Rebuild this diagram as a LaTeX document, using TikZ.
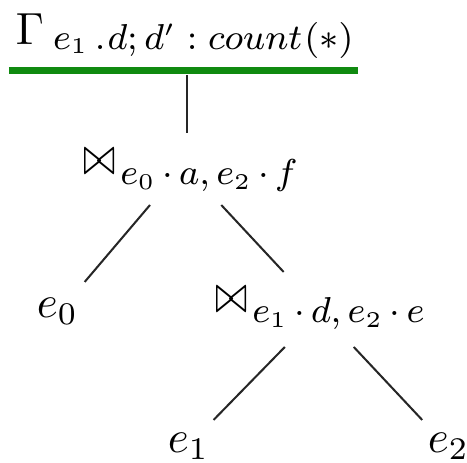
\documentclass[tikz,border=0pt]{standalone}
\usepackage{graphicx}
\usetikzlibrary{calc}
\definecolor{bargreen}{RGB}{16,138,16}
\DeclareMathSizes{8}{8}{5}{5}
\newcommand{\subbox}[1]{\raisebox{-2.2pt}{\fontsize{8}{10}\selectfont$\medmuskip=3mu #1$}}
\newcommand{\jn}{\scalebox{0.85}[1.2]{$\bowtie$}\kern1pt}
\begin{document}
\begin{tikzpicture}[x=0.222pt,y=-0.222pt,
  lbl/.style={inner sep=0pt,anchor=base west},
  edge/.style={line width=0.45pt,draw=black!85}]
\useasboundingbox (0,0) rectangle (467,463);
\node[lbl] (g) at (15,45) {$\Gamma$\kern2pt\raisebox{-0.9pt}{\fontsize{8}{10}\selectfont$e_1\mkern3mu.\mkern1mu d;d'\mathrel{:}count\mkern1mu(\ast)$}};
\node[lbl] (j1) at (83,175) {\jn\subbox{e_0\cdot a,e_2\cdot f}};
\node[lbl] (e0) at (36,318) {$e_0$};
\node[lbl] (j2) at (215,313) {\jn\subbox{e_1\cdot d,e_2\cdot e}};
\node[lbl] (e1) at (167,453) {$e_1$};
\node[lbl] (e2) at (427,453) {$e_2$};
\coordinate (bl) at (9,71);
\coordinate (br) at (358,71);
\coordinate (bm) at (187,71);
\coordinate (j1h) at (184,165);
\coordinate (e0h) at (60,311);
\coordinate (j2h) at (320,311);
\coordinate (e1h) at (194,440);
\coordinate (e2h) at (441,440);
\draw[bargreen,line width=1.55pt] (bl) -- (br);
\draw[edge] ($(bm)+(0,4)$) -- ($(bm)+(0,62)$);
\draw[edge] ($(j1h)!0.274!(e0h)$) -- ($(j1h)!0.801!(e0h)$);
\draw[edge] ($(j1h)!0.274!(j2h)$) -- ($(j1h)!0.733!(j2h)$);
\draw[edge] ($(j2h)!0.279!(e1h)$) -- ($(j2h)!0.845!(e1h)$);
\draw[edge] ($(j2h)!0.279!(e2h)$) -- ($(j2h)!0.845!(e2h)$);
\end{tikzpicture}
\end{document}
